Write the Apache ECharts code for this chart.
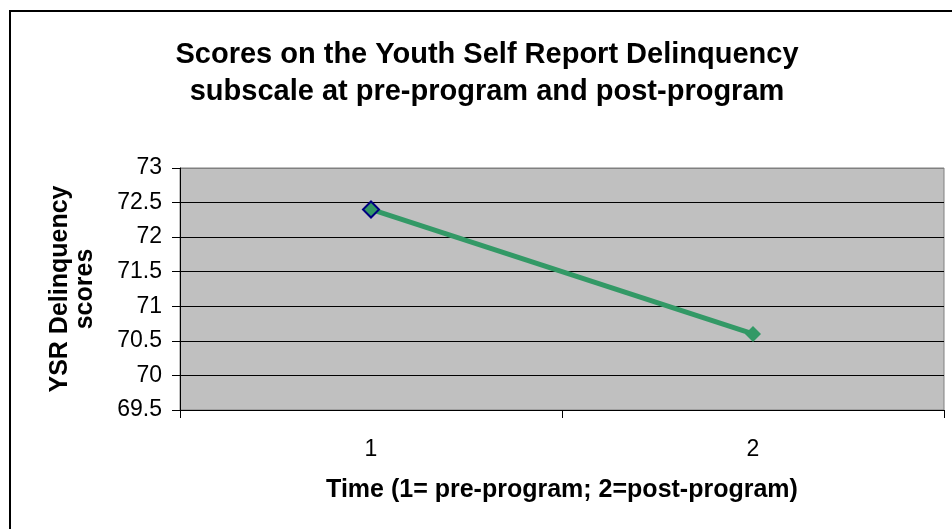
<!DOCTYPE html>
<html>
<head>
<meta charset="utf-8">
<script src="https://cdn.jsdelivr.net/npm/echarts@6/dist/echarts.min.js"></script>
<style>
  html, body { margin: 0; padding: 0; background: #fff; }
  #chart { width: 952px; height: 529px; }
</style>
</head>
<body>
<div id="chart"></div>
<script>
// Time points and mean YSR Delinquency scores
const timePoints = ['1', '2'];
const ysrScores = [72.4, 70.6];

// Value axis range
const yMin = 69.5;
const yMax = 73;
const yStep = 0.5;

const chart = echarts.init(document.getElementById('chart'), null, { renderer: 'canvas' });

const fontFamily = 'Arial, "Liberation Sans", sans-serif';

chart.setOption({
  backgroundColor: '#ffffff',
  animation: false,
  title: {
    text: 'Scores on the Youth Self Report Delinquency\nsubscale at pre-program and post-program',
    left: 482,
    top: 31,
    textAlign: 'center',
    textStyle: {
      fontFamily: fontFamily,
      fontSize: 29,
      fontWeight: 'bold',
      color: '#000',
      lineHeight: 37
    }
  },
  graphic: [{
    type: 'rect',
    shape: { x: 10, y: 11, width: 960, height: 540 },
    style: { fill: 'none', stroke: '#000', lineWidth: 2 },
    silent: true
  }],
  grid: {
    left: 180,
    right: 8,
    top: 168,
    bottom: 119,
    show: true,
    backgroundColor: '#c0c0c0',
    borderColor: '#808080',
    borderWidth: 1
  },
  xAxis: {
    type: 'category',
    data: timePoints,
    boundaryGap: true,
    name: 'Time (1= pre-program; 2=post-program)',
    nameLocation: 'middle',
    nameGap: 68,
    nameTextStyle: {
      fontFamily: fontFamily,
      fontSize: 25,
      fontWeight: 'bold',
      color: '#000'
    },
    axisLine: { show: true, lineStyle: { color: '#000', width: 1 } },
    axisTick: { show: true, alignWithLabel: false, length: 8, lineStyle: { color: '#000' } },
    axisLabel: {
      fontFamily: fontFamily,
      fontSize: 23,
      color: '#000',
      margin: 28
    },
    splitLine: { show: false }
  },
  yAxis: {
    type: 'value',
    min: yMin,
    max: yMax,
    interval: yStep,
    name: 'YSR Delinquency\nscores',
    nameLocation: 'middle',
    nameGap: 82,
    nameRotate: 90,
    nameTextStyle: {
      fontFamily: fontFamily,
      fontSize: 25,
      fontWeight: 'bold',
      color: '#000',
      lineHeight: 25,
      align: 'center'
    },
    axisLine: { show: true, lineStyle: { color: '#000', width: 1 } },
    axisTick: { show: true, inside: false, length: 8, lineStyle: { color: '#000' } },
    axisLabel: {
      fontFamily: fontFamily,
      fontSize: 23,
      color: '#000',
      margin: 18
    },
    splitLine: {
      show: true,
      lineStyle: {
        color: ['#000', '#000', '#000', '#000', '#000', '#000', '#000', '#808080'],
        width: 1
      }
    }
  },
  series: [{
    type: 'line',
    data: ysrScores.map((v, i) => ({
      value: v,
      itemStyle: i === 0
        ? { color: '#339966', borderColor: '#000080', borderWidth: 2 }
        : { color: '#339966', borderColor: '#339966', borderWidth: 0 }
    })),
    symbol: 'diamond',
    symbolSize: 16,
    lineStyle: { color: '#339966', width: 5 },
    itemStyle: { color: '#339966' },
    z: 3
  }]
});
</script>
</body>
</html>
